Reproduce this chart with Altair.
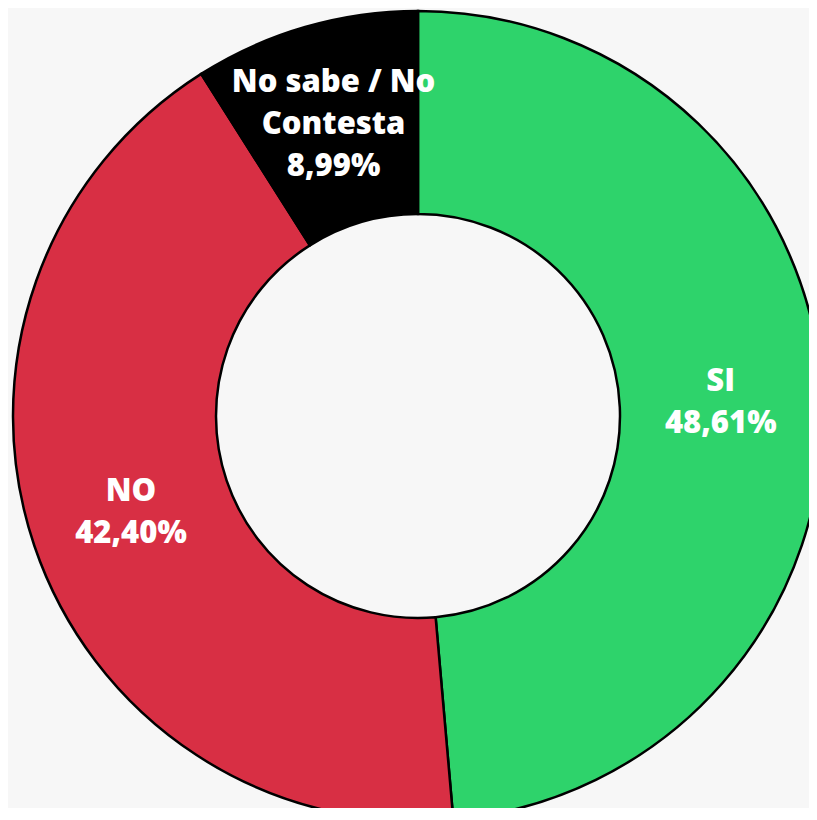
import altair as alt
import pandas as pd

categories = ["SI", "NO", "No sabe / No Contesta"]
values = [48.61, 42.40, 8.99]
label_text = ["SI\n48,61%", "NO\n42,40%", "No sabe / No\nContesta\n8,99%"]
order_idx = [0, 1, 2]
colors = ["#2ed36b", "#d82f44", "#000000"]

df = pd.DataFrame({
    "cat": categories,
    "value": values,
    "label": label_text,
    "ord": order_idx,
})
df["nlines"] = df["label"].str.count("\n") + 1
df["label2"] = [l if n == 2 else "" for l, n in zip(df["label"], df["nlines"])]
df["label3"] = [l if n == 3 else "" for l, n in zip(df["label"], df["nlines"])]

base = alt.Chart(df).encode(
    theta=alt.Theta("value:Q", stack=True),
    order=alt.Order("ord:O"),
    x=alt.value(410),
    y=alt.value(408),
)

arcs = base.mark_arc(
    innerRadius=202, outerRadius=405, stroke="#000000", strokeWidth=2.5
).encode(
    color=alt.Color("cat:N", scale=alt.Scale(domain=categories, range=colors), legend=None)
)

text_style = dict(radius=303, font="Open Sans", fontWeight=800, fontSize=31,
                  color="white", lineBreak="\n", lineHeight=42,
                  align="center", baseline="middle")

texts2 = base.mark_text(dy=-21, **text_style).encode(text="label2:N")
texts3 = base.mark_text(dy=-42, **text_style).encode(text="label3:N")

chart = (arcs + texts2 + texts3).properties(
    width=801, height=800, padding=0, background="#f7f7f7",
    autosize=alt.AutoSizeParams(type="none"),
).configure_view(stroke=None)

chart.save("out.html", embed_options={"renderer": "svg", "actions": False})
